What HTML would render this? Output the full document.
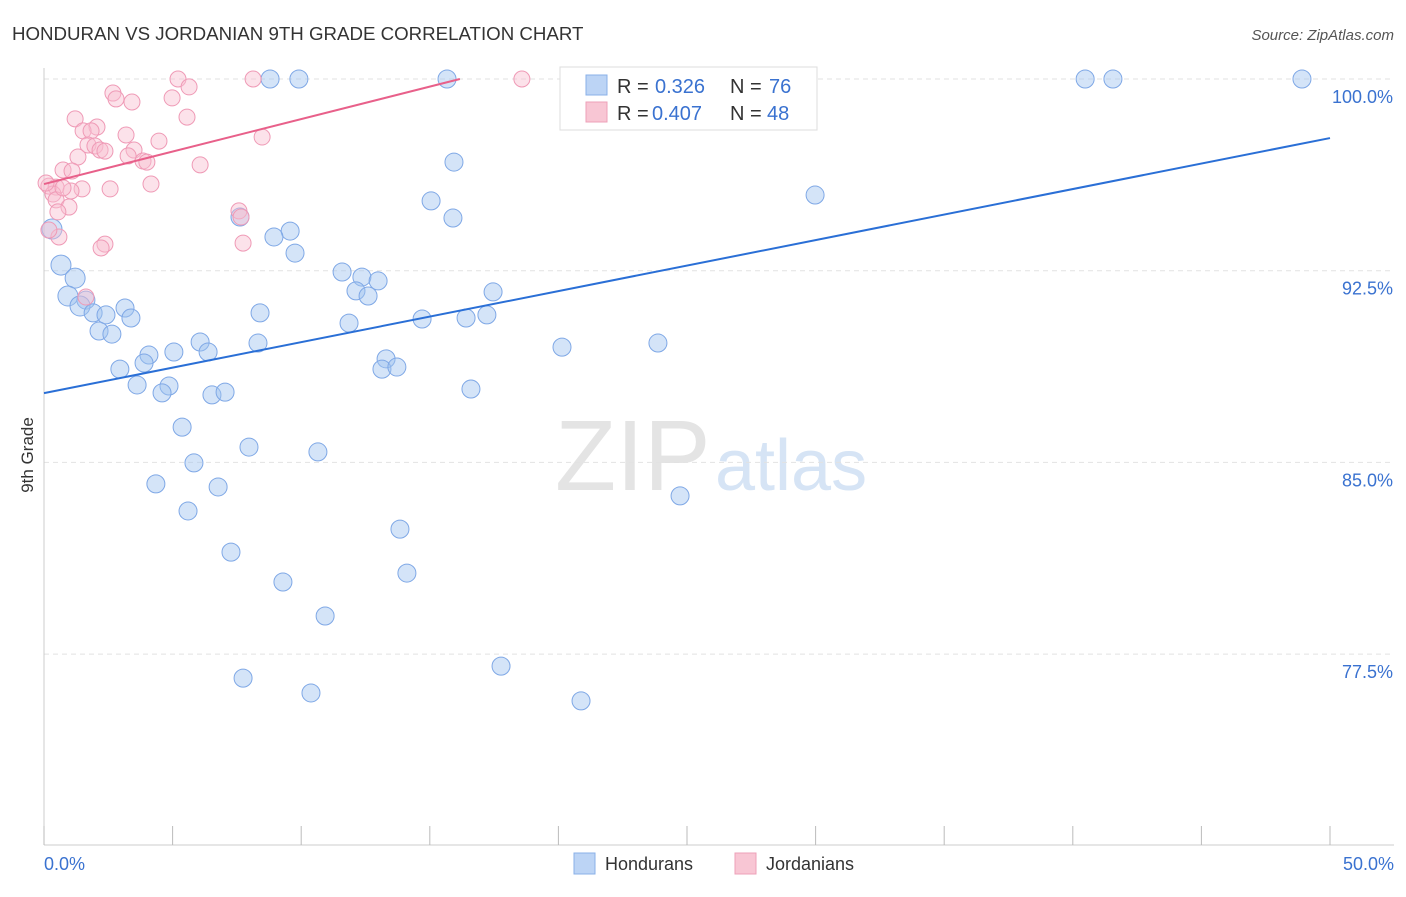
<!DOCTYPE html>
<html><head><meta charset="utf-8"><style>
body{margin:0;background:#fff;font-family:"Liberation Sans",sans-serif;}
svg text{font-family:"Liberation Sans",sans-serif;}
</style></head><body>
<svg id="chart" width="1406" height="892">
<text x="12" y="40" font-size="18.7" fill="#333">HONDURAN VS JORDANIAN 9TH GRADE CORRELATION CHART</text>
<text x="1394" y="40" font-size="15" fill="#555" font-style="italic" text-anchor="end">Source: ZipAtlas.com</text>
<text x="33" y="455" font-size="17" fill="#333" transform="rotate(-90 33 455)" text-anchor="middle">9th Grade</text>
<g><text x="555" y="490" font-size="100" fill="#e4e4e4" font-family="Liberation Serif,serif">ZIP</text><text x="715" y="490" font-size="72" fill="#d6e4f5">atlas</text></g>
<g id="grid"></g><g id="axes"></g><g id="marks"></g>
<g>
<rect x="560" y="67" width="257" height="63" fill="#fff" stroke="#ddd"/>
<rect x="586" y="75" width="21" height="20" fill="#bcd4f5" stroke="#8ab0e8"/>
<text x="617" y="93" font-size="20" fill="#333">R = </text><text x="655" y="93" font-size="20" fill="#3a72d0">0.326</text>
<text x="730" y="93" font-size="20" fill="#333">N = </text><text x="769" y="93" font-size="20" fill="#3a72d0">76</text>
<rect x="586" y="102" width="21" height="20" fill="#f8c6d4" stroke="#eea0b8"/>
<text x="617" y="120" font-size="20" fill="#333">R = </text><text x="652" y="120" font-size="20" fill="#3a72d0">0.407</text>
<text x="730" y="120" font-size="20" fill="#333">N = </text><text x="767" y="120" font-size="20" fill="#3a72d0">48</text>
</g>
<g>
<rect x="574" y="853" width="21" height="21" fill="#bcd4f5" stroke="#8ab0e8"/><text x="605" y="870" font-size="18" fill="#333">Hondurans</text>
<rect x="735" y="853" width="21" height="21" fill="#f8c6d4" stroke="#eea0b8"/><text x="766" y="870" font-size="18" fill="#333">Jordanians</text>
</g>
</svg>
<script>
const blueX=[8.79,9.91,15.67,25.04,28.23,40.48,41.56,48.91,15.94,29.98,15.05,15.90,7.62,9.57,8.94,9.76,0.31,0.66,1.21,0.93,1.63,1.40,1.91,2.41,3.15,3.38,2.14,2.64,11.59,12.36,12.99,12.13,12.60,8.40,11.86,14.70,16.41,17.22,17.46,6.07,8.32,4.08,5.05,6.38,3.89,2.95,13.30,13.14,13.72,20.14,23.87,3.62,4.86,4.59,6.53,7.04,16.60,5.37,7.97,10.65,5.83,4.35,6.77,24.73,5.60,13.84,7.27,14.11,9.29,10.93,7.74,10.38,17.77,20.88];
const blueY=[100,100,100,100,100,100,100,100,96.75,95.46,95.23,94.56,94.60,94.05,93.82,93.19,94.13,92.72,92.21,91.51,91.35,91.12,90.85,90.77,91.04,90.65,90.14,90.02,92.45,92.25,92.10,91.71,91.51,90.85,90.45,90.61,90.65,90.77,91.67,89.71,89.67,89.20,89.32,89.32,88.89,88.65,89.05,88.65,88.73,89.51,89.67,88.03,87.99,87.72,87.64,87.75,87.87,86.38,85.60,85.41,84.98,84.16,84.04,83.69,83.10,82.39,81.49,80.67,80.32,78.99,76.56,75.98,77.03,75.67];
const pinkX=[5.21,8.13,18.58,2.68,2.80,3.42,4.98,5.64,1.21,5.56,2.06,1.52,1.83,3.19,4.47,8.48,1.71,1.98,2.18,2.37,3.50,3.27,1.32,3.85,4.00,6.07,0.74,1.09,4.16,0.19,0.47,2.57,1.48,1.05,0.35,0.47,0.97,0.54,7.58,7.66,0.58,2.37,2.22,7.74,1.63,0.19,0.08,0.74];
const pinkY=[100,100,100,99.45,99.22,99.10,99.26,99.69,98.44,98.51,98.12,97.97,97.97,97.81,97.57,97.73,97.42,97.38,97.22,97.18,97.22,96.99,96.95,96.79,96.75,96.64,96.44,96.40,95.89,95.81,95.77,95.70,95.70,95.62,95.50,95.27,94.99,94.80,94.84,94.60,93.82,93.54,93.39,93.58,91.47,94.09,95.93,95.74];
const blueTrend=[87.71,97.69];
const pinkTrend=[95.89,100];
const pinkTrendEndX=16.17;
const yTicks=[100,92.5,85,77.5];
const yTickLabels=["100.0%","92.5%","85.0%","77.5%"];
const xTicks=[0,5,10,15,20,25,30,35,40,45,50];

const NS="http://www.w3.org/2000/svg";
const sx=v=>44+v*25.72, sy=v=>79+(100-v)*25.56;
function mk(tag,attrs,parent){const e=document.createElementNS(NS,tag);for(const k in attrs)e.setAttribute(k,attrs[k]);document.getElementById(parent).appendChild(e);return e;}
yTicks.forEach((t,i)=>{
 const l=mk('line',{x1:44,x2:1394,y1:sy(t),y2:sy(t),stroke:'#e2e2e2','stroke-dasharray':'5,4'},'grid');
 
 
 const tx=mk('text',{x:1393,y:sy(t)+24,'font-size':18,fill:'#3a72d0','text-anchor':'end'},'axes');
 tx.textContent=yTickLabels[i];
 
 
});
const ya=mk('line',{x1:44,x2:44,y1:68,y2:845,stroke:'#ccc'},'axes');


const xa=mk('line',{x1:44,x2:1394,y1:845,y2:845,stroke:'#ccc'},'axes');


xTicks.forEach(t=>{
 const l=mk('line',{x1:sx(t),x2:sx(t),y1:826,y2:845,stroke:'#bbb'},'axes');
 
 
});
[[0,"0.0%","start"],[50,"50.0%","end"]].forEach(a=>{
 const tx=mk('text',{x:a[0]===0?44:1394,y:870,'font-size':18,fill:'#3a72d0','text-anchor':a[2]},'axes');
 tx.textContent=a[1];
 
 
});
blueX.forEach((x,i)=>{
 const c=mk('circle',{cx:sx(x),cy:sy(blueY[i]),r:(x<1.5&&blueY[i]<95&&blueY[i]>91)?10:9,fill:'rgba(160,195,240,0.45)',stroke:'#7fa8e6','stroke-width':1},'marks');
 
 
});
pinkX.forEach((x,i)=>{
 const c=mk('circle',{cx:sx(x),cy:sy(pinkY[i]),r:8,fill:'rgba(248,190,208,0.45)',stroke:'#ef9ab6','stroke-width':1},'marks');
 
 
});
const bl=mk('line',{x1:sx(0),y1:sy(blueTrend[0]),x2:sx(50),y2:sy(blueTrend[1]),stroke:'#2a6fd6','stroke-width':2},'marks');


const pl=mk('line',{x1:sx(0),y1:sy(pinkTrend[0]),x2:sx(pinkTrendEndX),y2:sy(pinkTrend[1]),stroke:'#e8608a','stroke-width':2},'marks');


</script>
</body></html>
